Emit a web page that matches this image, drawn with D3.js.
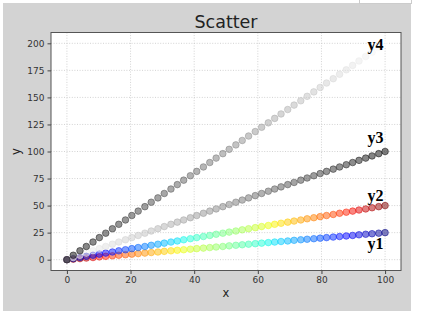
<!DOCTYPE html>
<html>
<head>
<meta charset="utf-8">
<script src="https://cdn.jsdelivr.net/npm/d3@7"></script>
<style>
  body { margin: 0; background: #fff; }
  .tick text { font-family: "DejaVu Sans", sans-serif; font-size: 9px; fill: #333; }
  .tick line { stroke: #444; }
  .domain { display: none; }
</style>
</head>
<body>
<div class="chart"></div>
<script>
// data
const xs = [0,2,4.1,6.1,8.2,10.2,12.2,14.3,16.3,18.4,20.4,22.4,24.5,26.5,28.6,30.6,32.7,34.7,36.7,38.8,
            40.8,42.9,44.9,46.9,49,51,53.1,55.1,57.1,59.2,61.2,63.3,65.3,67.3,69.4,71.4,73.5,75.5,77.6,79.6,
            81.6,83.7,85.7,87.8,89.8,91.8,93.9,95.9,98,100];
const y1 = [0,0.5,1,1.5,2,2.6,3.1,3.6,4.1,4.6,5.1,5.6,6.1,6.6,7.1,7.7,8.2,8.7,9.2,9.7,
            10.2,10.7,11.2,11.7,12.2,12.8,13.3,13.8,14.3,14.8,15.3,15.8,16.3,16.8,17.3,17.9,18.4,18.9,19.4,19.9,
            20.4,20.9,21.4,21.9,22.4,23,23.5,24,24.5,25];
const y2 = [0,1,2,3.1,4.1,5.1,6.1,7.1,8.2,9.2,10.2,11.2,12.2,13.3,14.3,15.3,16.3,17.3,18.4,19.4,
            20.4,21.4,22.4,23.5,24.5,25.5,26.5,27.6,28.6,29.6,30.6,31.6,32.7,33.7,34.7,35.7,36.7,37.8,38.8,39.8,
            40.8,41.8,42.9,43.9,44.9,45.9,46.9,48,49,50];
const y3 = [0,2,4.1,6.1,8.2,10.2,12.2,14.3,16.3,18.4,20.4,22.4,24.5,26.5,28.6,30.6,32.7,34.7,36.7,38.8,
            40.8,42.9,44.9,46.9,49,51,53.1,55.1,57.1,59.2,61.2,63.3,65.3,67.3,69.4,71.4,73.5,75.5,77.6,79.6,
            81.6,83.7,85.7,87.8,89.8,91.8,93.9,95.9,98,100];
const y4 = [0,4.1,8.2,12.2,16.3,20.4,24.5,28.6,32.7,36.7,40.8,44.9,49,53.1,57.1,61.2,65.3,69.4,73.5,77.6,
            81.6,85.7,89.8,93.9,98,102,106.1,110.2,114.3,118.4,122.4,126.5,130.6,134.7,138.8,142.9,146.9,151,155.1,159.2,
            163.3,167.3,171.4,175.5,179.6,183.7,187.8,191.8,195.9,200];
const seriesNames = ["y1", "y2", "y3", "y4"];
const cmapNames   = ["jet_r", "jet", "gray_r", "gray"];
const labelX = [94.5, 94.5, 94.5, 94.5];
const labelY = [10, 54, 108, 194];
const xTicks = [0, 20, 40, 60, 80, 100];
const yTicks = [0, 25, 50, 75, 100, 125, 150, 175, 200];

const W = 425, H = 314;
const plot = {left: 51, right: 401, top: 32.5, bottom: 270.5};

// matplotlib's jet, channel by channel
const jetR = d3.scaleLinear().domain([0, 0.35, 0.66, 0.89, 1]).range([0, 0, 1, 1, 0.5]).clamp(true);
const jetG = d3.scaleLinear().domain([0, 0.125, 0.375, 0.64, 0.91, 1]).range([0, 0, 1, 1, 0, 0]).clamp(true);
const jetB = d3.scaleLinear().domain([0, 0.11, 0.34, 0.65, 1]).range([0.5, 1, 1, 0, 0]).clamp(true);
const cmaps = {
  jet:    t => d3.rgb(255 * jetR(t), 255 * jetG(t), 255 * jetB(t)),
  jet_r:  t => cmaps.jet(1 - t),
  gray:   t => d3.rgb(255 * t, 255 * t, 255 * t),
  gray_r: t => cmaps.gray(1 - t)
};

const svg = d3.select(".chart").append("svg")
    .attr("width", W).attr("height", H);

// figure background
svg.append("rect").attr("x", 3).attr("y", 3).attr("width", 408).attr("height", 308)
    .attr("fill", "#d3d3d3");
svg.append("rect").attr("x", 359.5).attr("y", -1).attr("width", 52).attr("height", 4.5)
    .attr("fill", "#fff").attr("stroke", "#ccc");

// axes area
svg.append("rect")
    .attr("x", plot.left).attr("y", plot.top)
    .attr("width", plot.right - plot.left).attr("height", plot.bottom - plot.top)
    .attr("fill", "#fff");

const x = d3.scaleLinear().domain([-5, 105]).range([plot.left, plot.right]);
const y = d3.scaleLinear().domain([-10, 210]).range([plot.bottom, plot.top]);

// grid
const grid = svg.append("g").attr("stroke", "#c8c8c8").attr("stroke-width", 0.8)
    .attr("stroke-dasharray", "1,1.6");
grid.selectAll(".gx").data(xTicks).enter().append("line")
    .attr("x1", d => x(d)).attr("x2", d => x(d))
    .attr("y1", plot.top).attr("y2", plot.bottom);
grid.selectAll(".gy").data(yTicks).enter().append("line")
    .attr("x1", plot.left).attr("x2", plot.right)
    .attr("y1", d => y(d)).attr("y2", d => y(d));

// points (face + same-colour edge, like matplotlib's edgecolor='face')
const allY = [y1, y2, y3, y4];
const tScale = d3.scaleLinear().domain(d3.extent(xs)).range([0, 1]);
allY.forEach((ys, k) => {
  const cmap = cmaps[cmapNames[k]];
  svg.append("g").attr("class", "series " + seriesNames[k])
    .selectAll("circle")
    .data(xs.map((xv, i) => ({x: xv, y: ys[i]})))
    .enter().append("circle")
      .attr("cx", d => x(d.x))
      .attr("cy", d => y(d.y))
      .attr("r", 3.3)
      .attr("fill", d => cmap(tScale(d.x)))
      .attr("fill-opacity", 0.5)
      .attr("stroke", d => cmap(tScale(d.x)))
      .attr("stroke-opacity", 0.5)
      .attr("stroke-width", 1);
});

// labels
svg.selectAll(".lbl").data(seriesNames).enter().append("text")
    .attr("class", "lbl")
    .attr("x", (d, i) => x(labelX[i]))
    .attr("y", (d, i) => y(labelY[i]))
    .attr("font-family", "'Liberation Serif', 'Times New Roman', serif")
    .attr("font-weight", "bold")
    .attr("font-size", 16)
    .text(d => d);

// frame
svg.append("rect")
    .attr("x", plot.left).attr("y", plot.top)
    .attr("width", plot.right - plot.left).attr("height", plot.bottom - plot.top)
    .attr("fill", "none").attr("stroke", "#555").attr("stroke-width", 1);

// axes
svg.append("g").attr("transform", "translate(0," + plot.bottom + ")")
    .call(d3.axisBottom(x).tickValues(xTicks).tickSize(3.5).tickPadding(3).tickFormat(d3.format("d")));
svg.append("g").attr("transform", "translate(" + plot.left + ",0)")
    .call(d3.axisLeft(y).tickValues(yTicks).tickSize(3.5).tickPadding(3).tickFormat(d3.format("d")));

// titles
svg.append("text").attr("x", (plot.left + plot.right) / 2).attr("y", 28)
    .attr("text-anchor", "middle")
    .attr("font-family", "'DejaVu Sans', sans-serif").attr("font-size", 17.5).attr("fill", "#222")
    .text("Scatter");
svg.append("text").attr("x", (plot.left + plot.right) / 2).attr("y", 297)
    .attr("text-anchor", "middle")
    .attr("font-family", "'DejaVu Sans', sans-serif").attr("font-size", 11.5).attr("fill", "#222")
    .text("x");
svg.append("text").attr("transform", "translate(20," + (plot.top + plot.bottom) / 2 + ") rotate(-90)")
    .attr("text-anchor", "middle")
    .attr("font-family", "'DejaVu Sans', sans-serif").attr("font-size", 11.5).attr("fill", "#222")
    .text("y");
</script>
</body>
</html>
